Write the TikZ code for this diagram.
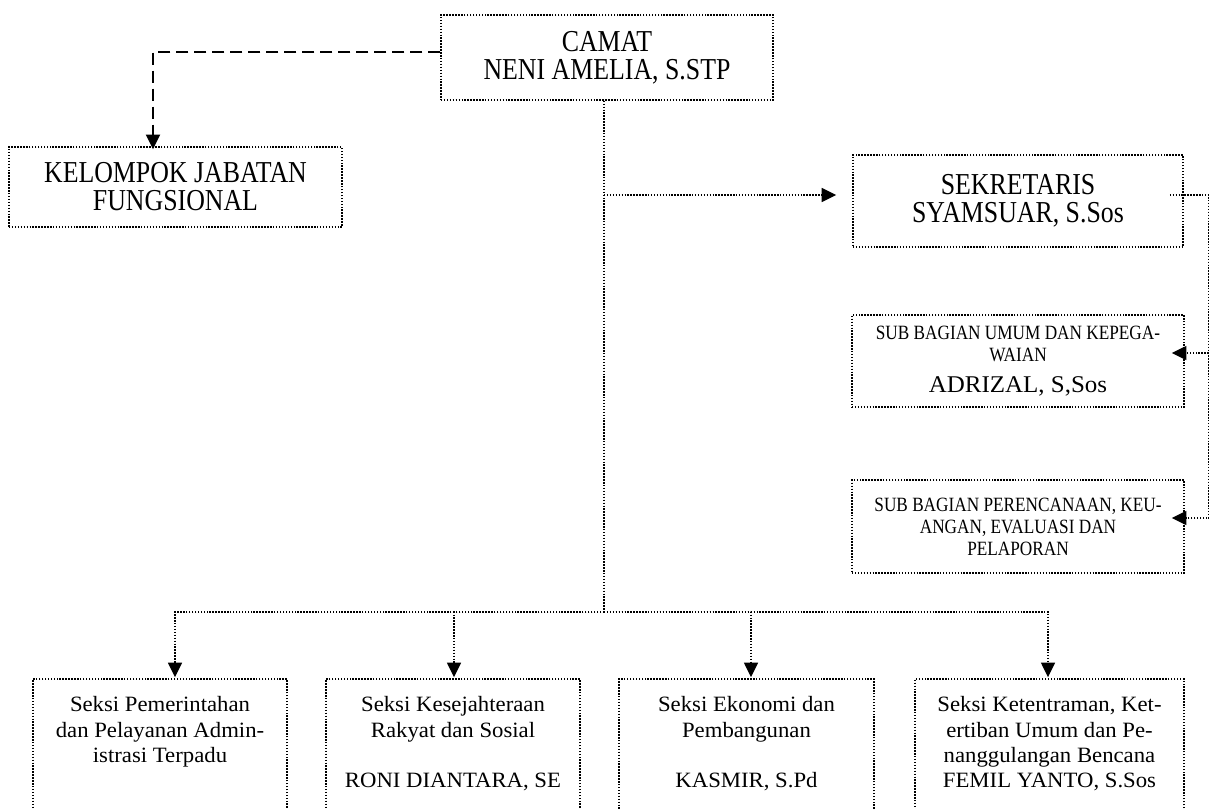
\documentclass[tikz,border=0pt]{standalone}
\usepackage{fontspec}
\setmainfont{Liberation Serif}
\newfontfamily\capsf{Liberation Serif}[FakeStretch=0.85]
\newfontfamily\lowf{Liberation Serif}[FakeStretch=1.04]
\usetikzlibrary{arrows.meta,calc}
\newcommand\bigf{\capsf\fontsize{22.8}{21}\selectfont}
\newcommand\smallcapsf{\capsf\fontsize{15.2}{16.5}\selectfont}
\newcommand\namef{\lowf\fontsize{18}{21}\selectfont}
\newcommand\seksif{\lowf\fontsize{16.4}{19}\selectfont}
\tikzset{
  box/.style={draw, line width=1.1pt, dash pattern=on 1.1pt off 1.1pt, inner sep=0pt, align=center},
  conn/.style={line width=1.1pt, dash pattern=on 1.1pt off 1.1pt},
  dashline/.style={line width=1.5pt, dash pattern=on 9pt off 4.5pt},
  tip/.style={-{Triangle[length=11pt,width=10.5pt]}},
  txt/.style={inner sep=0pt, align=center}
}
\begin{document}
\begin{tikzpicture}[x=0.75pt,y=-0.75pt]
\useasboundingbox (0,0) rectangle (1209,809);
\clip (0,0) rectangle (1209,809);

\node[box, minimum width=249pt, minimum height=63.75pt, font=\bigf] (camat) at (607,57.5) {CAMAT\\NENI AMELIA, S.STP};
\node[box, minimum width=249.75pt, minimum height=60pt, font=\bigf] (kjf) at (175.5,187) {KELOMPOK JABATAN\\FUNGSIONAL};
\node[box, minimum width=247.5pt, minimum height=69pt, font=\bigf] (sek) at (1018,201) {SEKRETARIS\\SYAMSUAR, S.Sos};
\node[box, minimum width=249pt, minimum height=69pt, font=\smallcapsf] (sub1) at (1018,361) {SUB BAGIAN UMUM DAN KEPEGA-\\WAIAN\\[7pt]{\namef ADRIZAL, S,Sos}};
\node[box, minimum width=249pt, minimum height=69.75pt, font=\smallcapsf] (sub2) at (1018,526.5) {SUB BAGIAN PERENCANAAN, KEU-\\ANGAN, EVALUASI DAN\\PELAPORAN};

\node[box, minimum width=190.5pt, minimum height=99.75pt] (b1) at (160,745.5) {};
\node[box, minimum width=190.5pt, minimum height=99.75pt] (b2) at (453,745.5) {};
\node[box, minimum width=191.25pt, minimum height=99.75pt] (b3) at (746.5,745.5) {};
\node[box, minimum width=201.75pt, minimum height=99.75pt] (b4) at (1049.5,745.5) {};

\node[txt, font=\seksif, anchor=north] (t1) at (160,696.5) {Seksi Pemerintahan\\dan Pelayanan Admin-\\istrasi Terpadu};
\node[txt, font=\seksif, anchor=north] (t2) at (453,696.5) {Seksi Kesejahteraan\\Rakyat dan Sosial\\[19pt]RONI DIANTARA, SE};
\node[txt, font=\seksif, anchor=north] (t3) at (746.5,696.5) {Seksi Ekonomi dan\\Pembangunan\\[19pt]KASMIR, S.Pd};
\node[txt, font=\seksif, anchor=north] (t4) at (1049.5,696.5) {Seksi Ketentraman, Ket-\\ertiban Umum dan Pe-\\nanggulangan Bencana\\FEMIL YANTO, S.Sos};

\coordinate (hub) at (604,612);
\coordinate (brk) at (604,195);

\draw[dashline, tip] ($(camat.west)+(0,-5.5)$) -| ($(kjf.north)+(-22.5,3)$);
\draw[conn] ($(camat.south)+(-3,0)$) -- (hub);
\draw[conn, tip] (brk) -- ($(sek.west)+(-16,-6)$);
\draw[conn, tip] (hub) -| ($(b1.north)+(15,-1)$);
\draw[conn, tip] (hub) -| ($(b2.north)+(1,-1)$);
\draw[conn, tip] (hub) -| ($(b3.north)+(4.5,-1)$);
\draw[conn, tip] (hub) -| ($(b4.north)+(-1.5,-1)$);
\draw[conn, tip] ($(sek.east)+(-14,-6)$) -| ($(sub2.east)+(24,-8.5)$) -- ($(sub2.east)+(-13,-8.5)$);
\draw[conn, tip] ($(sub1.east)+(24,-8)$) -- ($(sub1.east)+(-13,-8)$);
\end{tikzpicture}
\end{document}
